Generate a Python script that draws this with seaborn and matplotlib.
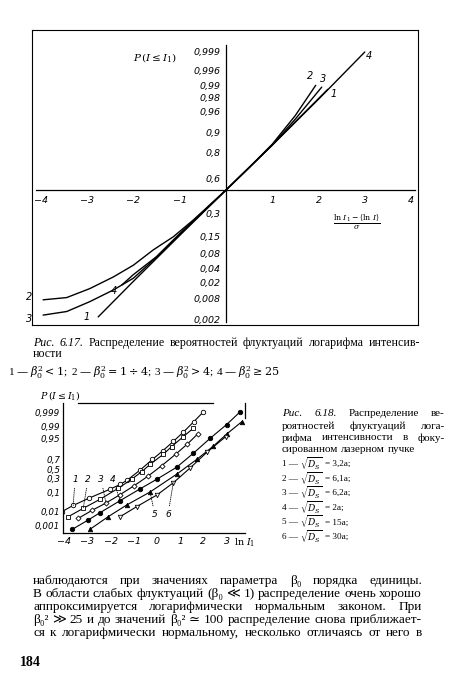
import matplotlib
matplotlib.use("Agg")
import matplotlib.pyplot as plt
import seaborn as sns
from statistics import NormalDist

# ---- data: Fig. 6.17 (x = normalised log-intensity, z = normal quantile of P) ----
f17_x1 = [-2.76, -2.0, -1.0, 0.0, 1.0, 1.5, 2.2]
f17_z1 = [-2.82, -2.03, -1.01, 0.0, 1.0, 1.52, 2.24]
f17_x2 = [-3.95, -3.44, -2.94, -2.43, -2.0, -1.57, -1.14, -0.71, 0.0, 0.5, 1.0, 1.5, 1.94]
f17_z2 = [-2.44, -2.39, -2.19, -1.93, -1.67, -1.33, -1.04, -0.67, 0.0, 0.5, 1.02, 1.66, 2.33]
f17_x3 = [-3.95, -3.44, -2.94, -2.43, -2.0, -1.57, -1.14, -0.71, 0.0, 0.5, 1.0, 1.5, 2.07]
f17_z3 = [-2.78, -2.70, -2.48, -2.22, -1.96, -1.56, -1.12, -0.70, 0.0, 0.5, 1.0, 1.58, 2.29]
f17_x4 = [-2.25, -2.0, -1.5, -1.0, -0.5, 0.0, 1.0, 2.0, 3.0]
f17_z4 = [-2.11, -1.88, -1.48, -0.97, -0.49, 0.0, 1.0, 2.02, 3.07]
f17_names = ["1", "2", "3", "4"]

f17_xticks = [-4, -3, -2, -1, 1, 2, 3, 4]
f17_xlabels = ["\u22124", "\u22123", "\u22122", "\u22121", "1", "2", "3", "4"]
f17_probs = [0.999, 0.996, 0.99, 0.98, 0.96, 0.9, 0.8, 0.6, 0.3, 0.15, 0.08, 0.04, 0.02, 0.008, 0.002]
f17_plabels = ["0,999", "0,996", "0,99", "0,98", "0,96", "0,9", "0,8", "0,6", "0,3",
               "0,15", "0,08", "0,04", "0,02", "0,008", "0,002"]

# ---- data: Fig. 6.18 ----
f18_x1 = [-4.1, -3.61, -2.92, -2.03, -1.59, -1.28, -0.73, -0.2, 0.24, 0.70, 1.13, 1.59, 2.0]
f18_z1 = [-2.32, -1.98, -1.58, -1.10, -0.84, -0.60, -0.06, 0.52, 0.98, 1.5, 2.0, 2.58, 3.11]
f18_x2 = [-3.82, -3.18, -2.46, -1.67, -1.09, -0.66, -0.30, 0.27, 0.63, 1.13, 1.56]
f18_z2 = [-2.59, -2.14, -1.65, -1.05, -0.55, -0.15, 0.25, 0.80, 1.22, 1.76, 2.21]
f18_x3 = [-3.39, -2.8, -2.2, -1.6, -1.0, -0.4, 0.2, 0.8, 1.3, 1.75]
f18_z3 = [-2.68, -2.25, -1.85, -1.4, -0.92, -0.4, 0.18, 0.8, 1.35, 1.9]
f18_x4 = [-3.65, -2.96, -2.46, -1.59, -0.73, 0.0, 0.85, 1.56, 2.28, 3.0, 3.58]
f18_z4 = [-3.28, -2.77, -2.38, -1.72, -1.08, -0.55, 0.10, 0.85, 1.66, 2.42, 3.11]
f18_x5 = [-2.89, -2.1, -1.31, -0.3, 0.85, 1.71, 2.43, 3.0, 3.65]
f18_z5 = [-3.28, -2.59, -1.96, -1.25, -0.28, 0.52, 1.25, 1.9, 2.57]
f18_x6 = [-1.6, -0.88, 0.0, 0.7, 1.42, 2.14, 2.95]
f18_z6 = [-2.6, -2.05, -1.41, -0.75, 0.05, 0.9, 1.75]
f18_markers = ["o", "s", "D", "o", "^", "v"]
f18_filled = [False, False, False, True, True, False]

f18_xticks = [-4, -3, -2, -1, 0, 1, 2, 3]
f18_xlabels = ["\u22124", "\u22123", "\u22122", "\u22121", "0", "1", "2", "3"]
f18_probs = [0.999, 0.99, 0.95, 0.7, 0.5, 0.3, 0.1, 0.01, 0.001]
f18_plabels = ["0,999", "0,99", "0,95", "0,7", "0,5", "0,3", "0,1", "0,01", "0,001"]
f18_legend = ["3,2a", "6,1a", "6,2a", "2a", "15a", "30a"]

sns.set_theme(style="white", rc={"axes.edgecolor": "black", "xtick.color": "black",
                                 "ytick.color": "black", "text.color": "black"})
plt.rcParams["font.family"] = ["DejaVu Sans"]
plt.rcParams["mathtext.fontset"] = "dejavuserif"
SERIF = ["Liberation Serif", "DejaVu Serif", "DejaVu Sans"]

nd = NormalDist()
W, H = 450, 692


def fx(px):
    return px / W


def fy(py):
    return 1 - py / H


fig = plt.figure(figsize=(4.5, 6.92), dpi=100)
fig.patch.set_facecolor("white")

# ---------------- Fig. 6.17 ----------------
rect = [fx(32), fy(325), fx(418) - fx(32), fy(30) - fy(325)]
frame = fig.add_axes(rect)
frame.set_xticks([])
frame.set_yticks([])
frame.patch.set_alpha(0)
for s in frame.spines.values():
    s.set_linewidth(0.8)

ax1 = fig.add_axes(rect)
ax1.patch.set_alpha(0)
curves17 = [(f17_x1, f17_z1), (f17_x2, f17_z2), (f17_x3, f17_z3), (f17_x4, f17_z4)]
for (xs, zs) in curves17:
    sns.lineplot(x=xs, y=zs, ax=ax1, color="black", lw=1.0, sort=False, estimator=None)

ax1.set_xlim(-4.19, 4.15)
ax1.set_ylim(-3.0, 3.56)
ax1.spines["left"].set_position(("data", 0))
ax1.spines["bottom"].set_position(("data", 0))
ax1.spines["right"].set_visible(False)
ax1.spines["top"].set_visible(False)
ax1.spines["left"].set_bounds(-2.93, 3.22)
ax1.spines["bottom"].set_bounds(-4.1, 4.08)
for s in ("left", "bottom"):
    ax1.spines[s].set_linewidth(0.9)
ax1.set_xticks(f17_xticks)
ax1.set_xticklabels(f17_xlabels)
ax1.set_yticks([nd.inv_cdf(p) for p in f17_probs])
ax1.set_yticklabels(f17_plabels)
ax1.tick_params(axis="both", direction="in", length=4, width=0.8, labelsize=6.8, pad=4)
for lab in ax1.get_xticklabels() + ax1.get_yticklabels():
    lab.set_style("italic")
ax1.set_xlabel("")
ax1.set_ylabel("")

# curve numbers at both ends
start_off = [(-8, 0), (-10, 2), (-10, -3), (-6, -4)]
end_off = [(4, -3), (-4, 7), (1, 6), (3, -3)]
for name, (xs, zs), so, eo in zip(f17_names, curves17, start_off, end_off):
    ax1.annotate(name, (xs[0], zs[0]), xytext=so, textcoords="offset points",
                 fontsize=7, style="italic", ha="center", va="center")
    ax1.annotate(name, (xs[-1], zs[-1]), xytext=eo, textcoords="offset points",
                 fontsize=7, style="italic", ha="center", va="center")

fig.text(fx(155), fy(58), r"$P\,(I \leq I_1)$", fontsize=7.5, ha="center", va="center")
fig.text(fx(357), fy(222), r"$\frac{\ln\,I_1 - \langle \ln\,I \rangle}{\sigma}$",
         fontsize=8, ha="center", va="center")

# ---------------- Fig. 6.18 ----------------
ax2 = fig.add_axes([fx(63), fy(533), fx(245) - fx(63), fy(403) - fy(533)])
ax2.patch.set_alpha(0)
curves18 = [(f18_x1, f18_z1), (f18_x2, f18_z2), (f18_x3, f18_z3),
            (f18_x4, f18_z4), (f18_x5, f18_z5), (f18_x6, f18_z6)]
for (xs, zs), m, filled in zip(curves18, f18_markers, f18_filled):
    sns.lineplot(x=xs, y=zs, ax=ax2, color="black", lw=0.8, sort=False, estimator=None,
                 marker=m, markersize=3.2 if m != "D" else 2.6,
                 markerfacecolor="black" if filled else "white",
                 markeredgecolor="black", markeredgewidth=0.6)
ax2.set_xlim(-4.05, 3.79)
ax2.set_ylim(-3.48, 3.59)
ax2.spines["top"].set_bounds(-3.4, 2.4)
ax2.spines["right"].set_bounds(2.8, 3.59)
for s in ax2.spines.values():
    s.set_linewidth(0.9)
ax2.set_xticks(f18_xticks)
ax2.set_xticklabels(f18_xlabels)
ax2.set_yticks([nd.inv_cdf(p) for p in f18_probs])
ax2.set_yticklabels(f18_plabels)
ax2.tick_params(axis="x", direction="in", length=3, width=0.8, labelsize=6.8, pad=3)
ax2.tick_params(axis="y", direction="in", length=5, width=0.8, labelsize=6.3, pad=2)
for lab in ax2.get_xticklabels() + ax2.get_yticklabels():
    lab.set_style("italic")
ax2.set_xlabel("")
ax2.set_ylabel("")

# dotted leaders to the curve numbers
lead = dict(arrowstyle="-", lw=0.6, ls=(0, (1, 1.5)), color="black", shrinkA=1, shrinkB=0)
top_labels = [("1", 0, 1, -3.53), ("2", 1, 1, -2.97), ("3", 2, 2, -2.41), ("4", 3, 3, -1.9)]
for name, ci, pi, lx in top_labels:
    xs, zs = curves18[ci]
    ax2.annotate(name, (xs[pi], zs[pi]), xytext=(lx, -0.55), textcoords="data",
                 fontsize=6.5, style="italic", ha="center", va="center", arrowprops=lead)
bot_labels = [("5", 4, 3, -0.09), ("6", 5, 3, 0.47)]
for name, ci, pi, lx in bot_labels:
    xs, zs = curves18[ci]
    ax2.annotate(name, (xs[pi], zs[pi]), xytext=(lx, -2.5), textcoords="data",
                 fontsize=6.5, style="italic", ha="center", va="center", arrowprops=lead)

fig.text(fx(40), fy(395), r"$P\,(I \leq I_1)$", fontsize=6.8, ha="left", va="center")
fig.text(fx(234), fy(543), r"$\ln\,I_1$", fontsize=6.8, ha="left", va="center")

# ---------------- text of the page ----------------
renderer = fig.canvas.get_renderer()


def put_line(py, words, x0, x1=None, size=8.0, weight="normal", n_italic=0):
    arts = [fig.text(0, fy(py), w, fontsize=size, family=SERIF, weight=weight,
                     style="italic" if i < n_italic else "normal", va="center", ha="left")
            for i, w in enumerate(words)]
    widths = [a.get_window_extent(renderer).width for a in arts]
    gap = size * 0.35
    if x1 is not None and len(words) > 1:
        gap = (x1 - x0 - sum(widths)) / (len(words) - 1)
    x = x0
    for a, w in zip(arts, widths):
        a.set_x(fx(x))
        x += w + gap


put_line(343, "Рис. 6.17. Распределение вероятностей флуктуаций логарифма интенсив-".split(),
         33, 420, size=8.6, n_italic=2)
put_line(354, ["ности"], 33, size=8.6)
put_line(373, [r"1 — $\beta_0^2 < 1$;", r"2 — $\beta_0^2 = 1 \div 4$;",
               r"3 — $\beta_0^2 > 4$;", r"4 — $\beta_0^2 \geq 25$"], 8, size=8)

cap = 8.0
put_line(414, "Рис. 6.18. Распределение ве-".split(), 282, 445, size=cap, n_italic=2)
put_line(426, "роятностей флуктуаций лога-".split(), 282, 445, size=cap)
put_line(438, "рифма интенсивности в фоку-".split(), 282, 445, size=cap)
put_line(450, "сированном лазерном пучке".split(), 282, size=cap)
for i, val in enumerate(f18_legend):
    put_line(464 + 14.6 * i, [f"{i + 1} —", r"$\sqrt{D_S}$", f"= {val};"], 282, size=6.6)

body = 9.5
put_line(581, "наблюдаются при значениях параметра β₀ порядка единицы.".split(),
         33, 422, size=body)
put_line(594, "В области слабых флуктуаций (β₀ ≪ 1) распределение очень хорошо".split(),
         33, 422, size=body)
put_line(607, "аппроксимируется логарифмически нормальным законом. При".split(),
         33, 422, size=body)
put_line(620, "β₀² ≫ 25 и до значений β₀² ≃ 100 распределение снова приближает-".split(),
         33, 422, size=body)
put_line(633, "ся к логарифмически нормальному, несколько отличаясь от него в".split(),
         33, 422, size=body)
put_line(662, ["184"], 20, size=10, weight="bold")

fig.savefig("out.png", dpi=100, facecolor="white")
